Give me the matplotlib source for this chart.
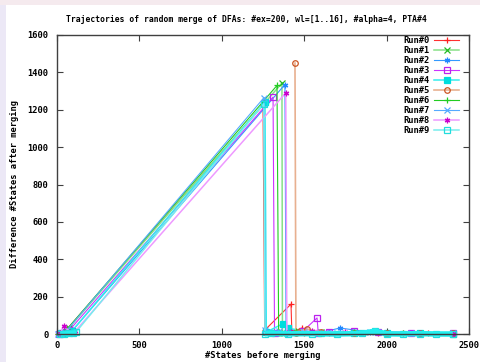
import matplotlib
matplotlib.use('Agg')
import matplotlib.pyplot as plt
from matplotlib.patches import Rectangle

# ---- data (x = #states before merging, y = difference) ----
run0_x = [2400, 2250, 2100, 1950, 1800, 1650, 1500, 1487, 1425, 1420, 1260, 1250, 45, 30, 15, 5]
run0_y = [2, 3, 5, 4, 6, 5, 8, 32, 12, 160, 20, 1225, 10, 6, 3, 1]
run1_x = [2400, 2200, 2000, 1800, 1600, 1450, 1380, 1368, 1365, 70, 55, 35, 15]
run1_y = [3, 5, 8, 6, 10, 12, 8, 5, 1343, 30, 12, 6, 2]
run2_x = [2400, 2150, 1900, 1717, 1600, 1450, 1390, 1383, 95, 70, 40, 10]
run2_y = [2, 6, 10, 32, 8, 12, 6, 1335, 20, 10, 5, 1]
run3_x = [2400, 2150, 1950, 1800, 1650, 1585, 1578, 1492, 1400, 1320, 1311, 75, 55, 30, 10]
run3_y = [3, 8, 12, 14, 10, 8, 86, 15, 10, 6, 1268, 20, 12, 5, 2]
run4_x = [2400, 2200, 2000, 1800, 1600, 1400, 1371, 1270, 1262, 90, 70, 50, 25]
run4_y = [2, 5, 4, 8, 6, 30, 55, 10, 1241, 15, 10, 8, 3]
run5_x = [2400, 2200, 2000, 1800, 1600, 1517, 1460, 1450, 1444]
run5_y = [3, 6, 5, 8, 10, 27, 12, 8, 1450]
run6_x = [2400, 2100, 1800, 1600, 1450, 1345, 1335, 60, 40, 20, 5]
run6_y = [2, 5, 12, 8, 15, 10, 1330, 25, 10, 5, 1]
run7_x = [2400, 2150, 1900, 1700, 1500, 1350, 1265, 1256, 60, 40, 25, 8]
run7_y = [4, 6, 10, 8, 12, 15, 20, 1265, 20, 12, 6, 2]
run8_x = [2400, 2200, 1950, 1750, 1550, 1420, 1395, 1388, 110, 80, 40, 20]
run8_y = [2, 8, 12, 10, 15, 12, 8, 1290, 15, 10, 45, 5]
run9_x = [2400, 2300, 2200, 2100, 2000, 1930, 1850, 1700, 1550, 1400, 1300, 1262, 1255, 115, 95, 70, 45, 20]
run9_y = [0, 0, 2, 0, 1, 15, 3, 0, 2, 1, 3, 2, 1232, 10, 5, 3, 2, 0]

runs_x = [run0_x, run1_x, run2_x, run3_x, run4_x, run5_x, run6_x, run7_x, run8_x, run9_x]
runs_y = [run0_y, run1_y, run2_y, run3_y, run4_y, run5_y, run6_y, run7_y, run8_y, run9_y]
labels = ['Run#%d' % i for i in range(10)]

x_ticks = [0, 500, 1000, 1500, 2000, 2500]
y_ticks = [0, 200, 400, 600, 800, 1000, 1200, 1400, 1600]

# ---- styles ----
line_colors = ['#ff3030', '#88e088', '#3399ff', '#cc33ff', '#33eeee',
               '#e8b090', '#22cc22', '#55aaff', '#ee99ff', '#77eeee']
mark_colors = ['#ff2020', '#22bb22', '#2288ff', '#bb22ee', '#00dddd',
               '#cc5522', '#22cc22', '#55aaff', '#cc00cc', '#22dddd']
markers = ['+', 'x', (6, 2, 0), 's', 's', 'o', '+', 'x', (6, 2, 0), 's']
filled = [True, True, True, False, True, False, True, True, True, False]
widths = [0.8, 1.1, 0.8, 0.8, 1.1, 1.2, 0.8, 0.8, 1.1, 1.1]

font = ['DejaVu Sans Mono']
fs = 6.3

fig = plt.figure(figsize=(4.81, 3.62), dpi=100)
fig.patch.set_facecolor('white')
# page border strips seen on the reference
fig.patches.append(Rectangle((0, 0), 6 / 481, 1, transform=fig.transFigure,
                             facecolor='#ece8f6', edgecolor='none', zorder=0))
fig.patches.append(Rectangle((0, 1 - 5 / 362), 1, 5 / 362, transform=fig.transFigure,
                             facecolor='#f5eaee', edgecolor='none', zorder=0))

ax = fig.add_axes([57 / 481, 28 / 362, 412 / 481, 299 / 362])

for i in range(10):
    mfc = mark_colors[i] if filled[i] else 'none'
    ax.plot(runs_x[i], runs_y[i], color=line_colors[i], lw=widths[i],
            marker=markers[i], ms=4, mec=mark_colors[i], mfc=mfc, mew=0.9,
            label=labels[i], clip_on=False, zorder=2)

# the dense PTA tail of the last run shows as a solid cyan band
peak9 = run9_y.index(max(run9_y))
ax.plot(run9_x[:peak9], run9_y[:peak9], color='#22eeee', lw=4, solid_capstyle='butt',
        clip_on=False, zorder=2)
ax.plot(run9_x[peak9 + 1:], run9_y[peak9 + 1:], color='#22eeee', lw=3.5, solid_capstyle='butt',
        clip_on=False, zorder=2)

ax.set_xlim(0, 2500)
ax.set_ylim(0, 1600)
ax.set_xticks(x_ticks)
ax.set_yticks(y_ticks)
ax.set_xticklabels([str(v) for v in x_ticks], family=font, weight='bold', fontsize=fs)
ax.set_yticklabels([str(v) for v in y_ticks], family=font, weight='bold', fontsize=fs)
ax.tick_params(direction='in', length=4, width=0.8, color='#404040',
               top=True, right=True, pad=6)
ax.tick_params(axis='x', pad=5)
for sp in ax.spines.values():
    sp.set_color('#404040')
    sp.set_linewidth(1.0)

ax.set_xlabel('#States before merging', family=font, weight='bold', fontsize=fs, labelpad=0.5)
ax.set_ylabel('Difference #States after merging', family=font, weight='bold', fontsize=fs,
              labelpad=6)
fig.text(246 / 481, 1 - 19 / 362,
         'Trajectories of random merge of DFAs: #ex=200, wl=[1..16], #alpha=4, PTA#4',
         family=font, weight='bold', fontsize=5.8, ha='center', va='center')

leg = ax.legend(loc='upper right', bbox_to_anchor=(459 / 481, 1 - 36 / 362),
                bbox_transform=fig.transFigure, frameon=False, markerfirst=False,
                numpoints=1, handlelength=2.8, handletextpad=0.6, labelspacing=0.12,
                borderpad=0, borderaxespad=0,
                prop={'family': font, 'weight': 'bold', 'size': fs})

fig.savefig('out.png', dpi=100)
